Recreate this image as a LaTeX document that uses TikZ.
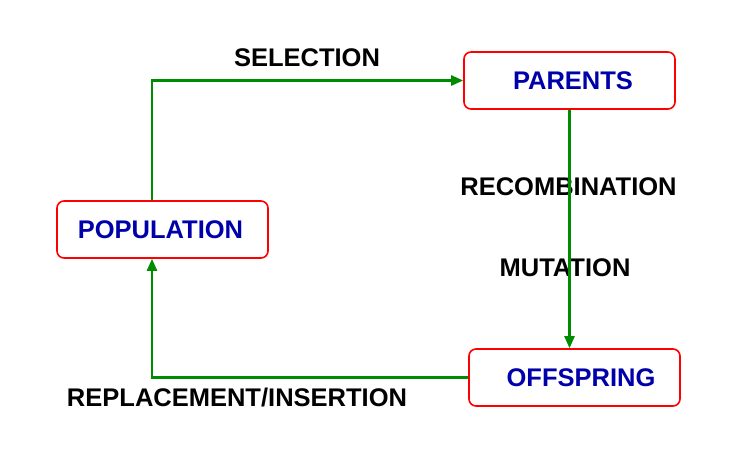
\documentclass[tikz,border=0pt]{standalone}
\usepackage{fontspec}
\setmainfont{Liberation Sans}
\usetikzlibrary{arrows.meta}
\definecolor{flowgreen}{RGB}{0,140,0}
\definecolor{boxblue}{RGB}{0,0,170}
\definecolor{boxred}{RGB}{255,0,0}
\tikzset{
  stagebox/.style={draw=boxred, line width=1.6pt, rounded corners=7pt, fill=white,
    minimum width=211pt, minimum height=57pt, inner sep=0pt,
    text=boxblue, font=\fontsize{25.5}{30}\selectfont\bfseries},
  flow/.style={draw=flowgreen, line width=2.4pt, -{Triangle[length=12pt,width=10pt]}},
  steplabel/.style={font=\fontsize{25.5}{30}\selectfont\bfseries, text=black, inner sep=0pt}
}
\begin{document}
\begin{tikzpicture}[x=1pt,y=-1pt]
\useasboundingbox (0,0) rectangle (743,461);
\fill[white] (0,0) rectangle (743,461);
\node[stagebox] (par) at (569.5,80.5) {\hspace*{7pt}PARENTS};
\node[stagebox] (pop) at (162.5,229.5) {POPULATION\hspace*{4pt}};
\node[stagebox] (off) at (574.5,377.5) {\hspace*{13pt}OFFSPRING};
\draw[flow] ([xshift=-10.5pt]pop.north) |- (par.west);
\node[steplabel] (sel) at (307,58) {SELECTION};
\node[steplabel] (rec) at (568.5,187) {RECOMBINATION};
\node[steplabel] (mut) at (565,268) {MUTATION};
\draw[flow] (par.south) -- (par.south |- off.north);
\draw[flow] (off.west) -| ([xshift=-10.5pt]pop.south);
\node[steplabel] (rep) at (237,398) {REPLACEMENT/INSERTION};
\end{tikzpicture}
\end{document}
